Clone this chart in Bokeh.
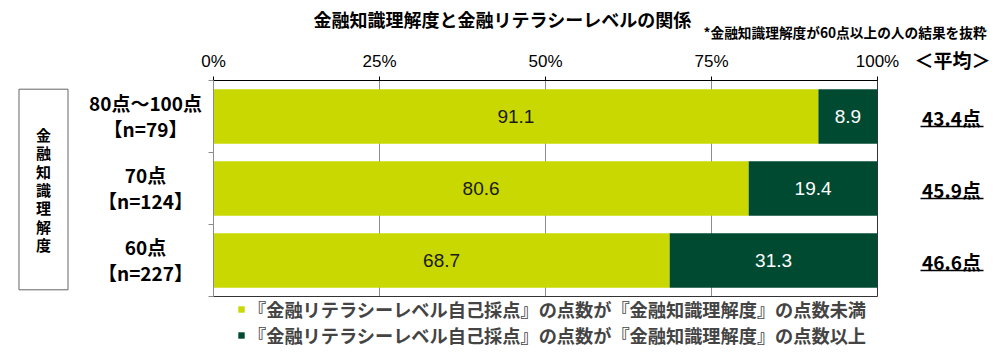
from bokeh.plotting import figure
from bokeh.models import (ColumnDataSource, Range1d, LinearAxis, FixedTicker, PrintfTickFormatter,
                          Label, LabelSet, Legend, LegendItem, Arrow)
from bokeh.core.properties import value
from bokeh.embed import file_html
from bokeh.resources import INLINE

# ---- data ----
categories = ["80点～100点", "70点", "60点"]
sample_sizes = [79, 124, 227]
below_share = [91.1, 80.6, 68.7]
above_share = [8.9, 19.4, 31.3]
averages = [43.4, 45.9, 46.6]
x_ticks = [0, 25, 50, 75, 100]
grid_ticks = [25, 50, 75]
series_names = [
    "『金融リテラシーレベル自己採点』の点数が『金融知識理解度』の点数未満",
    "『金融リテラシーレベル自己採点』の点数が『金融知識理解度』の点数以上",
]
title_text = "金融知識理解度と金融リテラシーレベルの関係"
note_text = "*金融知識理解度が60点以上の人の結果を抜粋"
avg_header = "＜平均＞"
axis_title = "金融知識理解度"

# ---- style / layout ----
LIGHT = "#c8d800"
DARK = "#004a32"
JPS = "Noto Sans CJK JP"
LATS = "Liberation Sans"
JP = value(JPS)
LAT = value(LATS)
W, H = 1000, 357
FL, FR, FT, FB = 213, 877, 80, 296  # bar-area edges (canvas px, top-based)

n = len(categories)
xpx = (FR - FL) / 100.0
ypx = (FB - FT) / n
x_range = Range1d(-FL / xpx, 100 + (W - FR) / xpx)
y_range = Range1d(-(H - FB) / ypx, n + FT / ypx)


def top(y):
    return H - y


ys = [n - i - 0.5 for i in range(n)]
src = ColumnDataSource(dict(
    y=ys,
    below=below_share,
    above=above_share,
    cat=categories,
    nlab=[f"【n={v}】" for v in sample_sizes],
    below_mid=[b / 2 for b in below_share],
    above_mid=[b + a / 2 for b, a in zip(below_share, above_share)],
    below_txt=[f"{v:.1f}" for v in below_share],
    above_txt=[f"{v:.1f}" for v in above_share],
    avg_txt=[f"{v:.1f}点" for v in averages],
))

p = figure(width=W, height=H, x_range=x_range, y_range=y_range,
           output_backend="svg", toolbar_location=None,
           x_axis_type=None, y_axis_type=None,
           min_border=0, outline_line_color=None,
           background_fill_color="white", border_fill_color="white")
p.grid.visible = False

# grid lines (only within the bar area)
p.segment(x0=grid_ticks, y0=[0] * len(grid_ticks), x1=grid_ticks, y1=[n] * len(grid_ticks),
          line_color="#8c8c8c", line_width=1)

rs = p.hbar_stack(["below", "above"], y="y", height=0.76, color=[LIGHT, DARK],
                  line_color=None, source=src)

# bar-area border
p.quad(left=[0], right=[100], bottom=[0], top=[n], fill_color=None,
       line_color="#333333", line_width=1)

xax = LinearAxis(ticker=FixedTicker(ticks=x_ticks), formatter=PrintfTickFormatter(format="%d%%"),
                 fixed_location=n, bounds=(0, 100),
                 axis_line_color="black", axis_line_width=1,
                 major_tick_line_color="black", major_tick_out=4, major_tick_in=0,
                 minor_tick_line_color=None,
                 major_label_text_font=LATS, major_label_text_font_size="17px",
                 major_label_text_color="black", major_label_standoff=6)
p.add_layout(xax, "above")

yax = LinearAxis(ticker=FixedTicker(ticks=list(range(n + 1))), fixed_location=0, bounds=(0, n),
                 axis_line_color="#8c8c8c", major_tick_line_color="#8c8c8c",
                 major_tick_out=5, major_tick_in=0, minor_tick_line_color=None,
                 major_label_overrides={i: "" for i in range(n + 1)},
                 major_label_standoff=0)
p.add_layout(yax, "left")

# value labels in bars
p.add_layout(LabelSet(x="below_mid", y="y", text="below_txt", source=src,
                      text_align="center", text_baseline="middle", text_color="#1a1a1a",
                      text_font=LAT, text_font_size="19px"))
p.add_layout(LabelSet(x="above_mid", y="y", text="above_txt", source=src,
                      text_align="center", text_baseline="middle", text_color="white",
                      text_font=LAT, text_font_size="19px"))

# category labels (two lines)
for col, off in (("cat", 14), ("nlab", -12)):
    p.add_layout(LabelSet(x=145, y="y", x_units="screen", text=col, source=src,
                          text_align="center", text_baseline="middle", text_color="black",
                          text_font=JP, text_font_style="bold", text_font_size="19px",
                          y_offset=off))

# averages (underlined)
p.add_layout(LabelSet(x=951, y="y", x_units="screen", text="avg_txt", source=src,
                      text_align="center", text_baseline="middle", text_color="black",
                      text_font=JP, text_font_style="bold", text_font_size="19px",
                      y_offset=-1))
for i in range(n):
    yy = FT + ypx * (i + 0.5) + 10
    p.add_layout(Arrow(start=None, end=None, x_start=920, y_start=top(yy), x_end=983, y_end=top(yy),
                       start_units="screen", end_units="screen", line_color="black", line_width=1.5))

# header texts
p.add_layout(Label(x=502, y=top(18), x_units="screen", y_units="screen", text=title_text,
                   text_align="center", text_baseline="middle", text_font=JPS,
                   text_font_style="bold", text_font_size="18px", text_color="black"))
p.add_layout(Label(x=703, y=top(31), x_units="screen", y_units="screen", text=note_text,
                   text_align="left", text_baseline="middle", text_font=JPS,
                   text_font_style="bold", text_font_size="13.7px", text_color="black"))
p.add_layout(Label(x=952, y=top(59), x_units="screen", y_units="screen", text=avg_header,
                   text_align="center", text_baseline="middle", text_font=JPS,
                   text_font_style="bold", text_font_size="19px", text_color="black"))

# left vertical box title
p.add_layout(Label(x=43, y=top(189), x_units="screen", y_units="screen", text="\n".join(axis_title),
                   text_align="center", text_baseline="middle", text_font=JPS,
                   text_font_style="bold", text_font_size="15px", text_line_height=0.87,
                   text_color="black", border_line_color="#666666", border_line_width=1,
                   padding=(17, 35)))

legend = Legend(items=[LegendItem(label=series_names[0], renderers=[rs[0]]),
                       LegendItem(label=series_names[1], renderers=[rs[1]])],
                location=(237, 9), orientation="vertical",
                glyph_width=8, glyph_height=8, label_standoff=3,
                label_text_font=JPS, label_text_font_style="bold", label_text_font_size="18.2px",
                spacing=0, padding=0, margin=0, border_line_color=None, background_fill_alpha=0)
p.add_layout(legend, "center")

open("out.html", "w").write(file_html(p, INLINE))
